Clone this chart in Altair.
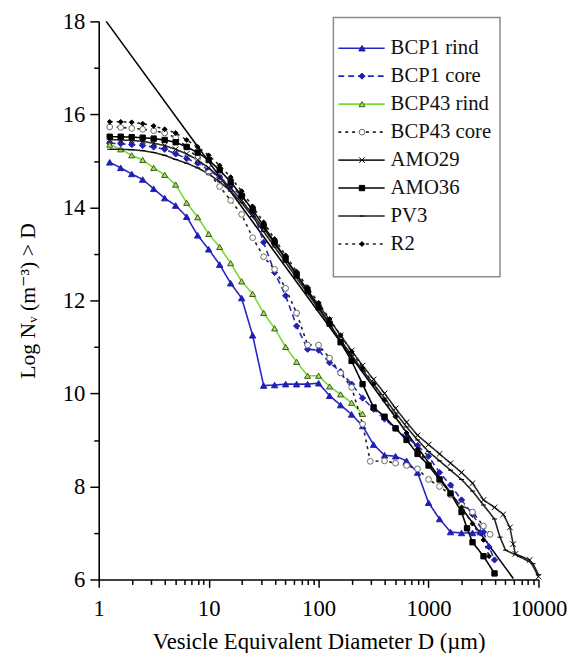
import altair as alt
import pandas as pd

names = ["BCP1 rind", "BCP1 core", "BCP43 rind", "BCP43 core", "AMO29", "AMO36", "PV3", "R2"]

# log10 of D (um) and Log Nv values
bcp1_rind_logd = [0.1, 0.2, 0.3, 0.4, 0.5, 0.6, 0.7, 0.8, 0.9, 1.0, 1.1, 1.2, 1.3, 1.4, 1.5, 1.6, 1.7, 1.8, 1.9, 2.0,
                  2.1, 2.2, 2.3, 2.4, 2.5, 2.6, 2.7, 2.8, 2.9, 3.0, 3.1, 3.2, 3.3, 3.4, 3.47]
bcp1_rind_n = [14.97, 14.85, 14.72, 14.6, 14.4, 14.2, 14.04, 13.8, 13.4, 13.1, 12.77, 12.37, 12.05, 11.25, 10.17,
               10.18, 10.2, 10.2, 10.2, 10.22, 9.95, 9.75, 9.55, 9.3, 8.9, 8.67, 8.65, 8.55, 8.3, 7.65, 7.3, 7.02,
               7.0, 7.0, 7.02]

bcp1_core_logd = [0.1, 0.2, 0.3, 0.4, 0.5, 0.6, 0.7, 0.8, 0.9, 1.0, 1.1, 1.2, 1.3, 1.4, 1.5, 1.6, 1.7, 1.8, 1.9, 2.0,
                  2.1, 2.2, 2.3, 2.4, 2.5, 2.6, 2.7, 2.8, 2.9, 3.0, 3.1, 3.2, 3.3, 3.4, 3.5, 3.55, 3.6]
bcp1_core_n = [15.38, 15.37, 15.35, 15.33, 15.3, 15.25, 15.15, 15.05, 14.95, 14.8, 14.65, 14.45, 14.25, 13.95, 13.25,
               12.6, 12.1, 11.45, 10.95, 10.93, 10.66, 10.47, 10.2, 9.9, 9.66, 9.45, 9.25, 9.05, 8.88, 8.65, 8.3,
               8.03, 7.71, 7.4, 7.02, 6.7, 6.42]

bcp43_rind_logd = [0.1, 0.2, 0.3, 0.4, 0.5, 0.6, 0.7, 0.8, 0.9, 1.0, 1.1, 1.2, 1.3, 1.4, 1.5, 1.6, 1.7, 1.8, 1.9, 2.0,
                   2.1, 2.2, 2.3, 2.4]
bcp43_rind_n = [15.35, 15.25, 15.12, 15.02, 14.85, 14.7, 14.49, 14.1, 13.79, 13.43, 13.15, 12.8, 12.41, 12.14, 11.73,
                11.4, 11.0, 10.68, 10.38, 10.38, 10.15, 9.98, 9.8, 9.56]

bcp43_core_logd = [0.1, 0.2, 0.3, 0.4, 0.5, 0.6, 0.7, 0.8, 0.9, 1.0, 1.1, 1.2, 1.3, 1.4, 1.5, 1.6, 1.7, 1.8, 1.9, 2.0,
                   2.1, 2.2, 2.3, 2.4, 2.47, 2.6, 2.7, 2.8, 2.9, 3.0, 3.1, 3.2, 3.3, 3.4, 3.5, 3.56]
bcp43_core_n = [15.73, 15.72, 15.7, 15.68, 15.65, 15.6, 15.5, 15.3, 15.06, 14.75, 14.45, 14.15, 13.85, 13.35, 12.94,
                12.67, 12.26, 11.73, 11.04, 11.04, 10.76, 10.44, 10.13, 9.34, 8.54, 8.55, 8.5, 8.45, 8.38, 8.15, 8.0,
                7.82, 7.6, 7.45, 7.15, 6.97]

amo29_logd = [0.1, 0.2, 0.3, 0.4, 0.5, 0.6, 0.7, 0.8, 0.9, 1.0, 1.1, 1.2, 1.3, 1.4, 1.5, 1.6, 1.7, 1.8, 1.9, 2.0,
              2.1, 2.2, 2.3, 2.4, 2.5, 2.6, 2.7, 2.8, 2.9, 3.0, 3.1, 3.2, 3.3, 3.4, 3.5, 3.6, 3.68, 3.74, 3.77,
              3.79, 3.92, 4.0]
amo29_n = [15.46, 15.45, 15.44, 15.42, 15.38, 15.33, 15.25, 15.15, 15.02, 14.85, 14.65, 14.42, 14.15, 13.85, 13.55,
           13.22, 12.9, 12.55, 12.22, 11.9, 11.58, 11.25, 10.92, 10.6, 10.3, 10.0, 9.68, 9.38, 9.1, 8.9, 8.7, 8.5,
           8.3, 8.07, 7.71, 7.55, 7.4, 7.12, 6.76, 6.55, 6.42, 6.06]

amo36_logd = [0.1, 0.2, 0.3, 0.4, 0.5, 0.6, 0.7, 0.8, 0.9, 1.0, 1.1, 1.2, 1.3, 1.4, 1.5, 1.6, 1.7, 1.8, 1.9, 2.0,
              2.1, 2.2, 2.3, 2.4, 2.5, 2.6, 2.7, 2.8, 2.9, 3.0, 3.1, 3.2, 3.3, 3.35, 3.4, 3.5, 3.6]
amo36_n = [15.52, 15.52, 15.51, 15.5, 15.48, 15.45, 15.4, 15.3, 15.18, 15.02, 14.8, 14.55, 14.25, 13.95, 13.6,
           13.25, 12.9, 12.55, 12.2, 11.85, 11.5, 11.1, 10.7, 10.2, 9.7, 9.5, 9.25, 9.0, 8.7, 8.45, 8.15, 7.85,
           7.45, 7.1, 6.8, 6.5, 6.13]

pv3_logd = [0.1, 0.2, 0.3, 0.4, 0.5, 0.6, 0.7, 0.8, 0.9, 1.0, 1.1, 1.2, 1.3, 1.4, 1.5, 1.6, 1.7, 1.8, 1.9, 2.0,
            2.1, 2.2, 2.3, 2.4, 2.5, 2.6, 2.7, 2.8, 2.9, 3.0, 3.1, 3.2, 3.3, 3.4, 3.5, 3.6, 3.65, 3.7, 3.83, 3.95,
            4.0]
pv3_n = [15.25, 15.25, 15.24, 15.22, 15.18, 15.12, 15.03, 14.95, 14.85, 14.72, 14.55, 14.35, 14.1, 13.8, 13.48,
         13.15, 12.82, 12.48, 12.15, 11.82, 11.48, 11.15, 10.82, 10.5, 10.2, 9.9, 9.58, 9.28, 9.0, 8.75, 8.55,
         8.35, 8.15, 7.9, 7.6, 7.3, 6.91, 6.63, 6.49, 6.34, 6.1]

r2_logd = [0.1, 0.2, 0.3, 0.4, 0.5, 0.6, 0.7, 0.8, 0.9, 1.0, 1.1, 1.2, 1.3, 1.4, 1.5, 1.6, 1.7, 1.8, 1.9, 2.0,
           2.1, 2.2, 2.3, 2.4, 2.5, 2.6, 2.7, 2.8, 2.9, 3.0, 3.1, 3.2, 3.3, 3.4, 3.5, 3.55]
r2_n = [15.84, 15.84, 15.83, 15.8, 15.75, 15.68, 15.6, 15.45, 15.3, 15.12, 14.9, 14.65, 14.35, 14.02, 13.68,
        13.32, 12.97, 12.62, 12.28, 11.95, 11.6, 11.25, 10.9, 10.55, 10.2, 9.85, 9.5, 9.15, 8.8, 8.45, 8.15,
        7.85, 7.55, 7.2, 6.85, 6.5]

# straight reference line (power-law slope)
fit_d = [1.17, 5900.0]
fit_n = [18.0, 6.02]

x_tick_values = [1, 2, 3, 4, 5, 6, 7, 8, 9, 10, 20, 30, 40, 50, 60, 70, 80, 90, 100, 200, 300, 400, 500, 600,
                 700, 800, 900, 1000, 2000, 3000, 4000, 5000, 6000, 7000, 8000, 9000, 10000]
y_tick_values = [6, 7, 8, 9, 10, 11, 12, 13, 14, 15, 16, 17, 18]

series_logd = [bcp1_rind_logd, bcp1_core_logd, bcp43_rind_logd, bcp43_core_logd, amo29_logd, amo36_logd,
               pv3_logd, r2_logd]
series_n = [bcp1_rind_n, bcp1_core_n, bcp43_rind_n, bcp43_core_n, amo29_n, amo36_n, pv3_n, r2_n]

rows = []
for name, ld, nv in zip(names, series_logd, series_n):
    for i, (a, b) in enumerate(zip(ld, nv)):
        rows.append({"series": name, "D": 10 ** a, "N": b, "i": i})
df = pd.DataFrame(rows)
fit_df = pd.DataFrame({"D": fit_d, "N": fit_n})
leg_df = pd.DataFrame({"series": names})

# styles
line_colors = ["#2626c4", "#2626c4", "#74dc34", "#222222", "#2a2a2a", "#000000", "#222222", "#222222"]
dashes = [[1, 0], [6, 4], [1, 0], [3, 4], [1, 0], [1, 0], [1, 0], [3, 4]]
widths = [1.6, 1.6, 1.6, 1.4, 1.5, 2.0, 1.5, 1.4]
xpath = "M-1,-1L1,1M-1,1L1,-1"
dpath = "M-1,0L1,0"
shapes = ["triangle-up", "diamond", "triangle-up", "circle", xpath, "square", dpath, "diamond"]
fills = ["#2020b0", "#2020b0", "#a6dc64", "#ffffff", "#000000", "#000000", "#000000", "#000000"]
strokes = ["#2020b0", "#2020b0", "#3c5a14", "#6a6a6a", "#000000", "#000000", "#000000", "#000000"]
sizes = [42, 24, 48, 30, 16, 30, 12, 30]

FONT = "'Liberation Serif', 'Times New Roman', 'DejaVu Serif', serif"

xaxis = alt.Axis(
    values=x_tick_values, format="d",
    labelExpr="indexof([1,10,100,1000,10000], datum.value) >= 0 ? datum.label : ''",
    tickSize={"condition": {"test": "indexof([1,10,100,1000,10000], datum.value) >= 0", "value": 8}, "value": 5},
    labelFont=FONT, labelFontSize=23, labelColor="black", labelPadding=11, labelOverlap=False, labelFlush=False,
    tickColor="black", tickWidth=1.5, domainColor="black", domainWidth=1.6, grid=False,
    title="Vesicle Equivalent Diameter D (µm)", titleFont=FONT, titleFontSize=23, titleFontWeight="normal",
    titleColor="black", titlePadding=10,
)
yaxis = alt.Axis(
    values=y_tick_values,
    labelExpr="datum.value % 2 == 0 ? datum.label : ''",
    tickSize={"condition": {"test": "datum.value % 2 == 0", "value": 9}, "value": 5},
    labelFont=FONT, labelFontSize=23, labelColor="black", labelPadding=5, labelOverlap=False,
    tickColor="black", tickWidth=1.5, domainColor="black", domainWidth=1.6, grid=False,
    title="Log Nᵥ (m⁻³) > D", titleFont=FONT, titleFontSize=22, titleFontWeight="normal",
    titleColor="black", titlePadding=23,
)

x_enc = alt.X("D:Q", scale=alt.Scale(type="log", domain=[1, 10000], nice=False), axis=xaxis)
y_enc = alt.Y("N:Q", scale=alt.Scale(domain=[6, 18], nice=False, zero=False), axis=yaxis)

color_enc = alt.Color("series:N", scale=alt.Scale(domain=names, range=line_colors), legend=None)
dash_enc = alt.StrokeDash("series:N", scale=alt.Scale(domain=names, range=dashes), legend=None)
width_enc = alt.StrokeWidth("series:N", scale=alt.Scale(domain=names, range=widths), legend=None)
shape_enc = alt.Shape("series:N", scale=alt.Scale(domain=names, range=shapes), legend=None)
fill_enc = alt.Fill("series:N", scale=alt.Scale(domain=names, range=fills), legend=None)
stroke_enc = alt.Stroke("series:N", scale=alt.Scale(domain=names, range=strokes), legend=None)
size_enc = alt.Size("series:N", scale=alt.Scale(domain=names, range=sizes), legend=None)

lines = alt.Chart(df).mark_line().encode(
    x=x_enc, y=y_enc, color=color_enc, strokeDash=dash_enc, strokeWidth=width_enc,
    detail="series:N", order=alt.Order("i:Q"),
)
points = alt.Chart(df).mark_point(filled=True, strokeWidth=1, opacity=1, fillOpacity=1).encode(
    x=x_enc, y=y_enc, shape=shape_enc, fill=fill_enc, stroke=stroke_enc, size=size_enc,
)
fit = alt.Chart(fit_df).mark_line(color="black", strokeWidth=1.6).encode(x=x_enc, y=y_enc)

main = alt.layer(fit, lines, points)

ly = alt.Y("series:N", scale=alt.Scale(domain=names, range=[13, 240], padding=0), axis=None)
box = alt.Chart(pd.DataFrame({"a": [0]})).mark_rect(fill="white", stroke="#8a8a8a", strokeWidth=1.5).encode(
    x=alt.value(238), x2=alt.value(407), y=alt.value(-4), y2=alt.value(259)
)
leg_lines = alt.Chart(leg_df).mark_rule().encode(
    x=alt.value(243), x2=alt.value(290), y=ly, color=color_enc, strokeDash=dash_enc, strokeWidth=width_enc,
)
leg_pts = alt.Chart(leg_df).mark_point(filled=True, strokeWidth=1, opacity=1, fillOpacity=1).encode(
    x=alt.value(267), y=ly, shape=shape_enc, fill=fill_enc, stroke=stroke_enc, size=size_enc,
)
leg_text = alt.Chart(leg_df).mark_text(align="left", baseline="middle", font=FONT, fontSize=21,
                                        color="#111111").encode(
    x=alt.value(296), y=ly, text="series:N"
)
legend = alt.layer(box, leg_lines, leg_pts, leg_text)

chart = alt.layer(main, legend).resolve_scale(y="independent").properties(
    width=446, height=566,
    autosize=alt.AutoSizeParams(type="none"),
    padding={"left": 92, "top": 9, "right": 35, "bottom": 70},
).configure_view(stroke=None)

chart.save("out.html", embed_options={"renderer": "svg", "actions": False})
